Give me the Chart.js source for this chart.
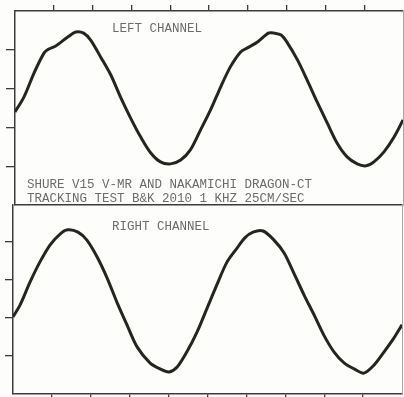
<!DOCTYPE html>
<html>
<head>
<meta charset="utf-8">
<script src="https://cdn.jsdelivr.net/npm/chart.js@4.4.0/dist/chart.umd.min.js"></script>
<style>
html, body { margin: 0; padding: 0; background: #fdfdfb; }
#wrap { position: relative; width: 404px; height: 397px; overflow: hidden; }
#leftChart { position: absolute; left: 0; top: 0; }
#rightChart { position: absolute; left: 0; top: 204px; }
</style>
</head>
<body>
<div id="wrap">
<canvas id="leftChart" width="404" height="206"></canvas>
<canvas id="rightChart" width="404" height="193"></canvas>
</div>
<script>
// sweep position (screen divisions) and trace height (divisions)
var leftX = [0, 0.23, 0.49, 0.75, 0.87, 1.05, 1.36, 1.57, 1.77, 1.95, 2.21, 2.47, 2.72, 2.98, 3.24,
  3.50, 3.75, 4.01, 4.27, 4.52, 4.78, 5.04, 5.30, 5.55, 5.81, 5.99, 6.25, 6.53, 6.68, 6.86,
  7.02, 7.28, 7.53, 7.79, 8.05, 8.30, 8.56, 8.82, 9.05, 9.25, 9.51, 9.77, 10.0];
var leftY = [2.40, 2.78, 3.40, 3.92, 4.02, 4.10, 4.33, 4.46, 4.43, 4.25, 3.81, 3.35, 2.78, 2.24, 1.75,
  1.34, 1.11, 1.06, 1.16, 1.42, 1.93, 2.45, 3.04, 3.56, 3.94, 4.05, 4.20, 4.43, 4.43, 4.38,
  4.18, 3.74, 3.22, 2.65, 2.11, 1.60, 1.24, 1.06, 1.01, 1.11, 1.37, 1.75, 2.19];

var rightX = [0, 0.18, 0.44, 0.69, 0.95, 1.21, 1.41, 1.67, 1.90, 2.16, 2.42, 2.67, 2.93, 3.19, 3.52,
  3.78, 4.01, 4.22, 4.47, 4.73, 4.99, 5.24, 5.50, 5.76, 5.96, 6.17, 6.43, 6.71, 6.97, 7.22,
  7.48, 7.74, 7.99, 8.25, 8.51, 8.77, 9.02, 9.28, 9.54, 9.79, 10.0];
var rightY = [2.03, 2.34, 2.95, 3.47, 3.92, 4.21, 4.32, 4.26, 4.05, 3.61, 3.05, 2.42, 1.82, 1.24, 0.82,
  0.66, 0.58, 0.71, 1.11, 1.63, 2.26, 2.87, 3.47, 3.84, 4.11, 4.26, 4.29, 4.05, 3.71, 3.18,
  2.61, 2.08, 1.55, 1.11, 0.82, 0.66, 0.55, 0.76, 1.11, 1.47, 1.82];

var leftTitle = 'LEFT CHANNEL';
var rightTitle = 'RIGHT CHANNEL';
var captionLines = ['SHURE V15 V-MR AND NAKAMICHI DRAGON-CT', 'TRACKING TEST B&K 2010 1 KHZ 25CM/SEC'];

var frameColor = '#3c3c3a';
var edgeColor = '#a8a8a4';
var traceColor = '#25251f';
var textColor = '#6c6c6a';
var textFont = '12.5px "Liberation Mono"';

function toPoints(xs, ys) {
  return xs.map(function (x, i) { return { x: x, y: ys[i] }; });
}

// hide the tick marks that sit on the frame corners
function innerTick(max) {
  return function (c) {
    if (c.tick && (c.tick.value === 0 || c.tick.value === max)) return 'rgba(0,0,0,0)';
    return frameColor;
  };
}

function textPlugin(items) {
  return {
    id: 'scopeText',
    afterDraw: function (chart) {
      var ctx = chart.ctx;
      ctx.save();
      ctx.font = textFont;
      ctx.fillStyle = textColor;
      ctx.textBaseline = 'alphabetic';
      items.forEach(function (t) { ctx.fillText(t[0], t[1], t[2]); });
      ctx.restore();
    }
  };
}

//top panel: left channel
var ctxL = document.getElementById('leftChart').getContext('2d');
var leftChart = new Chart(ctxL, {
  type: 'line',
  data: {
    datasets: [{
      data: toPoints(leftX, leftY),
      borderColor: traceColor,
      borderWidth: 3,
      pointRadius: 0,
      tension: 0.3,
      fill: false
    }]
  },
  options: {
    responsive: false,
    animation: false,
    layout: { autoPadding: false, padding: 0 },
    plugins: { legend: { display: false }, tooltip: { enabled: false } },
    scales: {
      x: {
        type: 'linear', position: 'top', min: 0, max: 10,
        ticks: { display: false, stepSize: 1 },
        grid: { drawOnChartArea: false, tickLength: 6, lineWidth: 1.3, color: innerTick(10) },
        border: { color: frameColor, width: 1.5 },
        afterFit: function (s) { s.height = 11; }
      },
      x2: {
        type: 'linear', position: 'bottom', min: 0, max: 10,
        ticks: { display: false }, grid: { display: false },
        border: { color: frameColor, width: 1.5 },
        afterFit: function (s) { s.height = 1; }
      },
      y: {
        type: 'linear', position: 'left', min: 0, max: 5,
        ticks: { display: false, stepSize: 1 },
        grid: { drawOnChartArea: false, tickLength: 9, lineWidth: 1.3, color: innerTick(5) },
        border: { color: frameColor, width: 1.5 },
        afterFit: function (s) { s.width = 15; }
      },
      y2: {
        type: 'linear', position: 'right', min: 0, max: 5,
        ticks: { display: false }, grid: { display: false },
        border: { color: edgeColor, width: 1 },
        afterFit: function (s) { s.width = 1; }
      }
    }
  },
  plugins: [textPlugin([
    [leftTitle, 112, 32],
    [captionLines[0], 27, 188],
    [captionLines[1], 27, 202]
  ])]
});

//bottom panel: right channel
var ctxR = document.getElementById('rightChart').getContext('2d');
var rightChart = new Chart(ctxR, {
  type: 'line',
  data: {
    datasets: [{
      data: toPoints(rightX, rightY),
      borderColor: traceColor,
      borderWidth: 3,
      pointRadius: 0,
      tension: 0.3,
      fill: false
    }]
  },
  options: {
    responsive: false,
    animation: false,
    layout: { autoPadding: false, padding: 0 },
    plugins: { legend: { display: false }, tooltip: { enabled: false } },
    scales: {
      x: {
        type: 'linear', position: 'bottom', min: 0, max: 10,
        ticks: { display: false, stepSize: 1 },
        grid: { drawOnChartArea: false, tickLength: 3, lineWidth: 1.3, color: innerTick(10) },
        border: { color: frameColor, width: 1.5 },
        afterFit: function (s) { s.height = 3; }
      },
      y: {
        type: 'linear', position: 'left', min: 0, max: 5,
        ticks: { display: false, stepSize: 1 },
        grid: { drawOnChartArea: false, tickLength: 8, lineWidth: 1.3, color: innerTick(5) },
        border: { color: frameColor, width: 1.5 },
        afterFit: function (s) { s.width = 13; }
      },
      y2: {
        type: 'linear', position: 'right', min: 0, max: 5,
        ticks: { display: false }, grid: { display: false },
        border: { color: edgeColor, width: 1 },
        afterFit: function (s) { s.width = 2; }
      }
    }
  },
  plugins: [textPlugin([
    [rightTitle, 112, 26]
  ])]
});
</script>
</body>
</html>
